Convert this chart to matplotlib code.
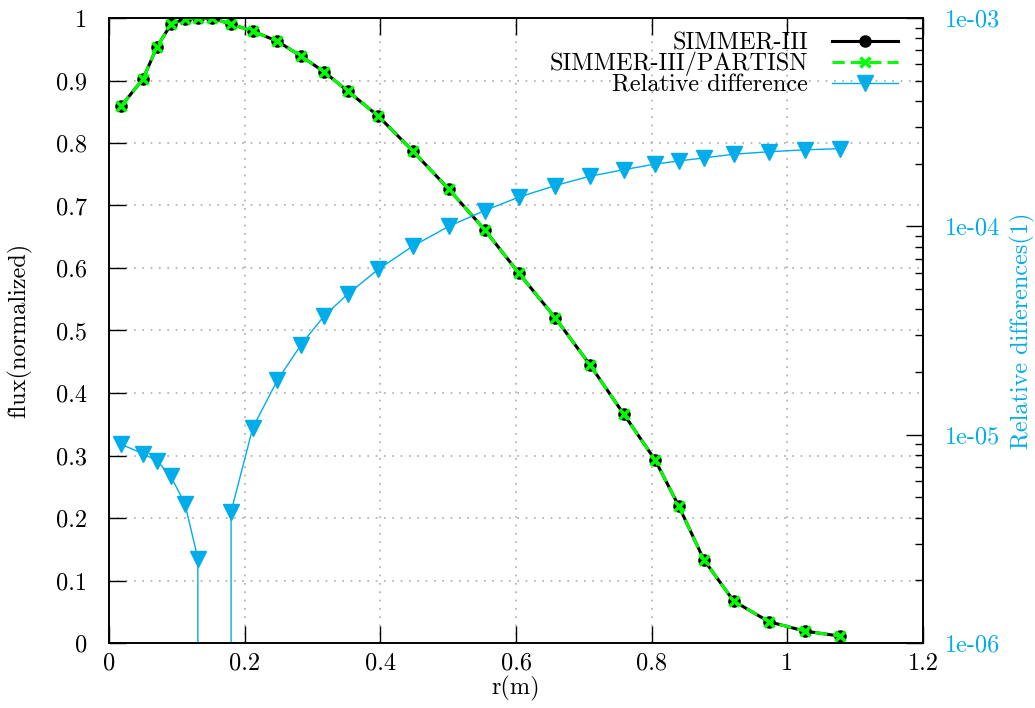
import numpy as np
import matplotlib
matplotlib.use("Agg")
import matplotlib.pyplot as plt
from matplotlib.ticker import FuncFormatter, MultipleLocator, LogLocator, NullFormatter

plt.rcParams['font.family'] = 'cmr10'
plt.rcParams['mathtext.fontset'] = 'cm'
plt.rcParams['axes.formatter.use_mathtext'] = True
plt.rcParams['font.size'] = 17.5

# radial positions (m)
r = [0.0177, 0.050, 0.0708, 0.0914, 0.112, 0.131, 0.152, 0.180, 0.212, 0.248,
     0.283, 0.317, 0.352, 0.397, 0.448, 0.501, 0.554, 0.604, 0.658, 0.709,
     0.759, 0.805, 0.840, 0.877, 0.921, 0.973, 1.026, 1.078]

# normalized flux, SIMMER-III
flux_simmer = [0.859, 0.902, 0.954, 0.990, 0.999, 1.000, 1.000, 0.990, 0.979, 0.963,
               0.939, 0.914, 0.883, 0.843, 0.787, 0.726, 0.661, 0.592, 0.520, 0.445,
               0.366, 0.293, 0.219, 0.133, 0.067, 0.034, 0.019, 0.011]

# normalized flux, SIMMER-III/PARTISN
flux_partisn = [0.859, 0.902, 0.954, 0.990, 0.999, 1.000, 1.000, 0.990, 0.979, 0.963,
                0.939, 0.914, 0.883, 0.843, 0.787, 0.726, 0.661, 0.592, 0.520, 0.445,
                0.366, 0.293, 0.219, 0.133, 0.067, 0.034, 0.019, 0.011]

# relative difference between the two
rel_diff = [9.0e-6, 8.1e-6, 7.5e-6, 6.3e-6, 4.65e-6, 2.54e-6, 0.0, 4.27e-6, 1.08e-5, 1.82e-5,
            2.70e-5, 3.71e-5, 4.73e-5, 6.22e-5, 8.04e-5, 1.00e-4, 1.19e-4, 1.38e-4, 1.57e-4, 1.74e-4,
            1.87e-4, 1.99e-4, 2.06e-4, 2.13e-4, 2.22e-4, 2.28e-4, 2.33e-4, 2.36e-4]

blue = '#00acea'

fig = plt.figure(figsize=(10.35, 7.08), dpi=100)
ax = fig.add_axes([109/1035, 65/708, 814/1035, 625/708])
ax2 = ax.twinx()

l1, = ax.plot(r, flux_simmer, '-', color='black', lw=2.2, marker='o', ms=8, zorder=3,
              label='SIMMER-III')
l2, = ax.plot(r, flux_partisn, '--', color='#00ff00', lw=2.2, dashes=(4, 2), marker='x',
              ms=7, mew=2.5, zorder=4, label='SIMMER-III/PARTISN')
l3, = ax2.plot(r, rel_diff, '-', color=blue, lw=1.0, marker='v', ms=11,
               label='Relative difference')

ax.set_xlim(0, 1.2)
ax.set_ylim(0, 1)
ax2.set_yscale('log', nonpositive='clip')
ax2.set_ylim(1e-6, 1e-3)

ax.xaxis.set_major_locator(MultipleLocator(0.2))
ax.yaxis.set_major_locator(MultipleLocator(0.1))
fmt = FuncFormatter(lambda v, p: '%g' % round(v, 3))
ax.xaxis.set_major_formatter(fmt)
ax.yaxis.set_major_formatter(fmt)

ax2.yaxis.set_major_locator(LogLocator(base=10, numticks=10))
ax2.yaxis.set_minor_locator(LogLocator(base=10, subs=np.arange(2, 10), numticks=10))
ax2.yaxis.set_minor_formatter(NullFormatter())
ax2.yaxis.set_major_formatter(FuncFormatter(lambda v, p: '%.0e' % v))

ax.tick_params(axis='both', which='major', direction='in', length=12, width=1)
ax.tick_params(axis='x', top=True, pad=7)
ax.tick_params(axis='y', right=False, pad=16)
ax2.tick_params(axis='y', which='major', direction='in', length=12, width=1, colors=blue, pad=16)
ax2.tick_params(axis='y', which='minor', direction='in', length=6, width=1)
ax2.tick_params(axis='y', which='both', color='black')

ax.grid(True, which='major', color='#aaaaaa', linestyle=(0, (1, 4)), lw=1.2)
ax.set_axisbelow(True)

for s in ax.spines.values():
    s.set_linewidth(1.2)
for s in ax2.spines.values():
    s.set_linewidth(1.2)

ax.set_xlabel('r(m)')
ax.set_ylabel('flux(normalized)')
ax2.set_ylabel('Relative differences(1)', color=blue)
ax.xaxis.set_label_coords(0.5, -0.053)
ax.yaxis.set_label_coords(-0.094, 0.5)
ax2.yaxis.set_label_coords(1.107, 0.5)

leg = ax2.legend(handles=[l1, l2, l3], loc='upper right', markerfirst=False, frameon=False,
                 bbox_to_anchor=(898/1035, 1 - 32/708), bbox_transform=fig.transFigure,
                 borderpad=0, borderaxespad=0, handlelength=2.7, handletextpad=1.0,
                 labelspacing=-0.09)

fig.savefig('out.png', dpi=100)
